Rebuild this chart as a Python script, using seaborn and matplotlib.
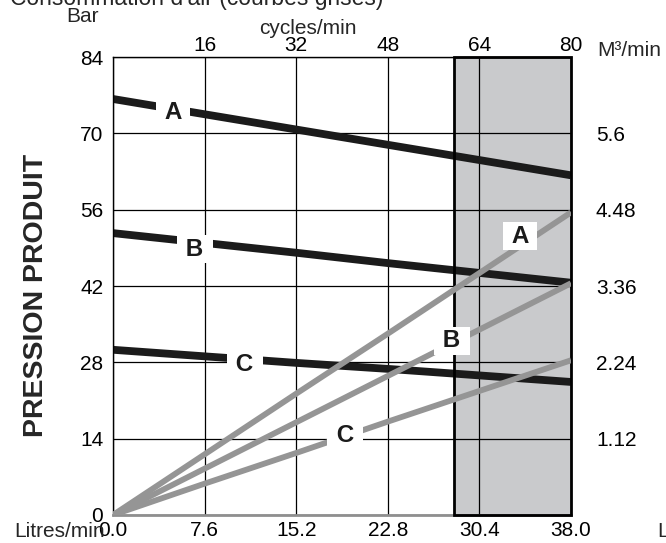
import matplotlib
matplotlib.use("Agg")
import matplotlib.pyplot as plt
import seaborn as sns
import pandas as pd

# ---------------- data ----------------
flow_lpm = [0.0, 7.6, 15.2, 22.8, 30.4, 38.0]           # Litres/min (bottom axis)
x_ticks = [0.0, 7.6, 15.2, 22.8, 30.4, 38.0]
x_tick_labels = ["0.0", "7.6", "15.2", "22.8", "30.4", "38.0"]
cycle_ticks = [16, 32, 48, 64, 80]                        # cycles/min (top axis)
bar_ticks = [0, 14, 28, 42, 56, 70, 84]                   # Bar (left axis)
m3_ticks = [1.12, 2.24, 3.36, 4.48, 5.6]                  # M3/min (right axis)
m3_tick_labels = ["1.12", "2.24", "3.36", "4.48", "5.6"]

# product pressure (black curves), Bar
pression_A = [76.3, 73.5, 70.7, 67.9, 65.1, 62.3]
pression_B = [51.7, 49.9, 48.1, 46.2, 44.4, 42.6]
pression_C = [30.3, 29.1, 27.9, 26.8, 25.6, 24.4]

# air consumption (grey curves), M3/min
air_A = [0.0, 0.89, 1.78, 2.66, 3.55, 4.44]
air_B = [0.0, 0.68, 1.36, 2.04, 2.72, 3.40]
air_C = [0.0, 0.46, 0.91, 1.37, 1.82, 2.27]

shade_range = [28.3, 38.0]                                # shaded zone, Litres/min
curve_names = ["A", "B", "C"]
black_label_pos = [(5.0, 74.3), (6.8, 49.2), (10.95, 28.1)]      # (L/min, Bar)
grey_label_pos = [(33.8, 4.13), (28.1, 2.59), (19.25, 1.20)]     # (L/min, M3/min)

# ---------------- style ----------------
sns.set_style("white")
plt.rcParams["font.family"] = ["Liberation Sans", "DejaVu Sans"]

BLACK = "#1b1b1b"
GREY = "#959595"
SHADE = "#c9cacc"
FS = 15

W, H = 666, 543
fig = plt.figure(figsize=(W / 100, H / 100), dpi=100)
L, R, T, B = 113, 571, 57, 515
ax = fig.add_axes([L / W, 1 - B / H, (R - L) / W, (B - T) / H])
ax.set_facecolor("white")

ax.set_xlim(0, 38.0)
ax.set_ylim(0, 84)

# shaded zone
ax.axvspan(shade_range[0], shade_range[1], facecolor=SHADE, edgecolor="none", zorder=0.3)
ax.axvspan(shade_range[0], shade_range[1], facecolor="none", edgecolor="black",
           linewidth=2.0, zorder=3, clip_on=False)

# grid
ax.set_axisbelow(True)
ax.set_xticks(x_ticks)
ax.set_xticklabels(x_tick_labels)
ax.set_yticks(bar_ticks)
ax.grid(True, color="black", linewidth=0.9)

# black pressure curves
df_p = pd.DataFrame({
    "flow": flow_lpm * 3,
    "val": pression_A + pression_B + pression_C,
    "curve": ["A"] * 6 + ["B"] * 6 + ["C"] * 6,
})
sns.lineplot(data=df_p, x="flow", y="val", units="curve", estimator=None,
             color=BLACK, linewidth=5.6, ax=ax, legend=False,
             solid_capstyle="butt", zorder=2)

for name, (x, y) in zip(curve_names, black_label_pos):
    ax.text(x, y, " " + name + " ", fontsize=17.5, fontweight="bold", color=BLACK,
            ha="center", va="center_baseline", zorder=6,
            bbox=dict(boxstyle="square,pad=0.1", facecolor="white", edgecolor="none"))

# spines
for s in ["left", "top"]:
    ax.spines[s].set_color("black")
    ax.spines[s].set_linewidth(1.0)
ax.spines["right"].set_visible(False)
ax.spines["bottom"].set_color("#8f8f8f")
ax.spines["bottom"].set_linewidth(2.0)

ax.tick_params(axis="y", length=0, pad=7, labelsize=FS, colors="black")
ax.tick_params(axis="x", length=0, pad=4, labelsize=FS, colors="black")
ax.set_xlabel("")
ax.set_ylabel("")

# right axis: M3/min, grey consumption curves
ax_r = ax.twinx()
ax_r.set_ylim(0, 84 * 0.08)
df_a = pd.DataFrame({
    "flow": flow_lpm * 3,
    "val": air_A + air_B + air_C,
    "curve": ["A"] * 6 + ["B"] * 6 + ["C"] * 6,
})
sns.lineplot(data=df_a, x="flow", y="val", units="curve", estimator=None,
             color=GREY, linewidth=4.2, ax=ax_r, legend=False,
             solid_capstyle="butt", zorder=2)
for name, (x, y) in zip(curve_names, grey_label_pos):
    ax_r.text(x, y, " " + name + " ", fontsize=17.5, fontweight="bold", color=BLACK,
              ha="center", va="center_baseline", zorder=6,
              bbox=dict(boxstyle="square,pad=0.1", facecolor="white", edgecolor="none"))
ax_r.set_yticks(m3_ticks)
ax_r.set_yticklabels(m3_tick_labels)
ax_r.set_ylabel("")
ax_r.set_xlabel("")
ax_r.tick_params(axis="y", length=0, pad=18, labelsize=FS, colors="black")
for s in ax_r.spines.values():
    s.set_visible(False)

# top axis: cycles/min
ax_t = ax.twiny()
ax_t.set_xlim(0, 80)
ax_t.set_xticks(cycle_ticks)
ax_t.tick_params(axis="x", length=0, pad=1.5, labelsize=FS, colors="black")
for s in ax_t.spines.values():
    s.set_visible(False)

# axis titles and free text
fig.text(10 / W, 1 - 5 / H, "Consommation d'air (courbes grises)", fontsize=16.5,
         ha="left", va="baseline")
fig.text(83 / W, 1 - 16 / H, "Bar", fontsize=FS, ha="center", va="center")
fig.text(308 / W, 1 - 28 / H, "cycles/min", fontsize=FS, ha="center", va="center")
fig.text(597 / W, 1 - 50 / H, "M³/min", fontsize=FS, ha="left", va="center")
fig.text(14 / W, 1 - 537 / H, "Litres/min", fontsize=FS, ha="left", va="baseline")
fig.text(657 / W, 1 - 537 / H, "Litres/min", fontsize=FS, ha="left", va="baseline")
fig.text(36 / W, 1 - 295 / H, "PRESSION PRODUIT", fontsize=20.5, fontweight="bold",
         rotation=90, ha="center", va="center")

fig.savefig("out.png", dpi=100)
